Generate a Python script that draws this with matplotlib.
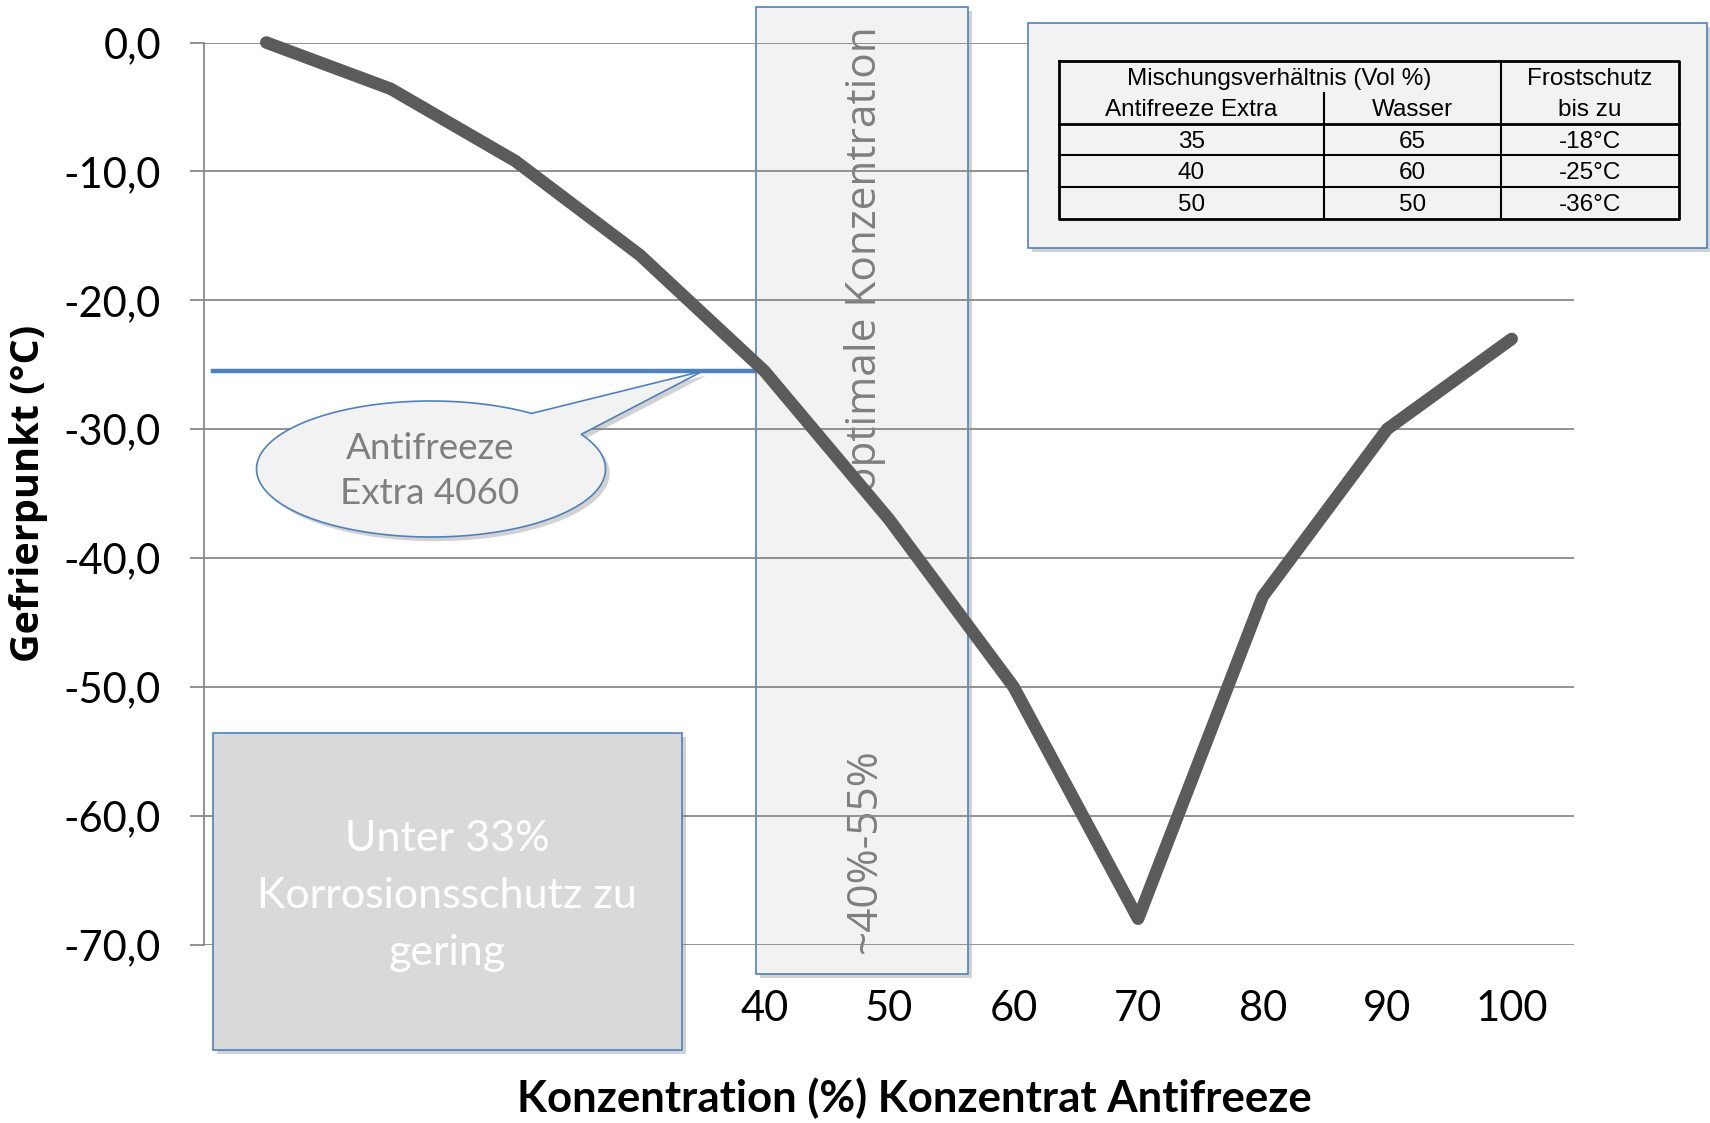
import matplotlib
matplotlib.use('Agg')
import matplotlib.pyplot as plt
import matplotlib.patches as mpatches
import matplotlib.patheffects as pe
from matplotlib.lines import Line2D
import numpy as np

# Daten
konz = [0, 10, 20, 30, 40, 50, 60, 70, 80, 90, 100]
gefrier = [0.0, -3.6, -9.2, -16.5, -25.5, -37.0, -50.0, -68.0, -43.0, -30.0, -23.0]
y_ticks = [0, -10, -20, -30, -40, -50, -60, -70]

tab_antifreeze = ['35', '40', '50']
tab_wasser = ['65', '60', '50']
tab_frost = ['-18°C', '-25°C', '-36°C']

W, H = 1710, 1123


def fx(x):
    return x / W


def fy(y):
    return 1 - y / H


blau = '#4f81bd'
grau_grid = '#898989'
schatten = [pe.SimplePatchShadow(offset=(3, -3), shadow_rgbFace='#7f7f7f', alpha=0.35), pe.Normal()]

fig = plt.figure(figsize=(W / 100, H / 100), dpi=100)
ax = fig.add_axes([fx(204), fy(944.5), 1370 / W, 902 / H])
ax.set_facecolor('none')

xi = np.arange(len(konz))
ax.plot(xi, gefrier, color='#5b5b5b', lw=9, solid_capstyle='round',
        solid_joinstyle='round', clip_on=False, zorder=3)
ax.set_xlim(-0.5, len(konz) - 0.5)
ax.set_ylim(-70, 0)
ax.set_yticks(y_ticks)
ax.set_yticklabels([f'{v:.1f}'.replace('.', ',') for v in y_ticks], fontsize=30, family='Lato')
ax.set_xticks(xi)
ax.set_xticklabels([str(k) for k in konz], fontsize=30, family='Lato')
ax.tick_params(axis='x', length=0, pad=32.5)
ax.tick_params(axis='y', length=10, width=1.3, color=grau_grid, pad=21)
ax.grid(axis='y', color=grau_grid, lw=1.3)
for s in ['top', 'right', 'bottom']:
    ax.spines[s].set_visible(False)
ax.spines['left'].set_color(grau_grid)
ax.spines['left'].set_linewidth(1.3)

# Bereich optimale Konzentration (hinter der Kurve)
opt = mpatches.Rectangle((fx(756), fy(974)), (968 - 756) / W, (974 - 7) / H,
                         transform=fig.transFigure, facecolor='#f2f2f2', edgecolor=blau,
                         lw=1.2, zorder=-1, path_effects=schatten)
fig.add_artist(opt)
fig.text(fx(865), fy(26), 'optimale Konzentration', rotation=90, ha='center', va='top',
         family='Open Sans', fontsize=30.5, color='#7f7f7f', zorder=-1)
fig.text(fx(865), fy(953), '~40%-55%', rotation=90, ha='center', va='bottom',
         family='Open Sans', fontsize=30.5, color='#7f7f7f', zorder=-1)

# blaue Linie zum Callout
fig.add_artist(Line2D([fx(213), fx(756)], [fy(371), fy(371)], transform=fig.transFigure,
                      color=blau, lw=3.2, zorder=-0.5))

# Callout "Antifreeze Extra 4060"
cx, cy, a, b = 431, 469, 174.5, 68
t1, t2 = np.deg2rad(-30.6), np.deg2rad(305.2)
tt = np.linspace(t1, t2, 200)
pts = [(cx + a * np.cos(t), cy + b * np.sin(t)) for t in tt]
pts.append((703, 371))
callout = mpatches.Polygon([(fx(x), fy(y)) for x, y in pts], closed=True,
                           transform=fig.transFigure, facecolor='#f2f2f2', edgecolor=blau,
                           lw=1.2, zorder=5, path_effects=schatten)
fig.add_artist(callout)
fig.text(fx(430), fy(471), 'Antifreeze\nExtra 4060', ha='center', va='center',
         family='Lato', fontsize=26.5, color='#7f7f7f', linespacing=1.45, zorder=6)

# Kasten "Unter 33% ..."
box = mpatches.Rectangle((fx(213), fy(1050)), (682 - 213) / W, (1050 - 733) / H,
                         transform=fig.transFigure, facecolor='#d9d9d9', edgecolor=blau,
                         lw=1.2, zorder=5, path_effects=schatten)
fig.add_artist(box)
fig.text(fx(447), fy(896), 'Unter 33%\nKorrosionsschutz zu\ngering', ha='center', va='center',
         family='Lato', fontsize=31, color='white', linespacing=1.62, zorder=6)

# Tabellenkasten
tbox = mpatches.Rectangle((fx(1028), fy(248.3)), (1707 - 1028) / W, (248.3 - 22.7) / H,
                          transform=fig.transFigure, facecolor='#f2f2f2', edgecolor=blau,
                          lw=1.2, zorder=5, path_effects=schatten)
fig.add_artist(tbox)

x0, x1, x2, x3 = 1058.6, 1323.6, 1500.7, 1679
y0, ym, y1, y2, y3, y4 = 60.7, 92.7, 124, 155.3, 187, 219.3


def tline(xs, ys, lw):
    fig.add_artist(Line2D([fx(v) for v in xs], [fy(v) for v in ys],
                          transform=fig.transFigure, color='black', lw=lw, zorder=6))


tline([x0, x3, x3, x0, x0], [y0, y0, y4, y4, y0], 2.0)
tline([x0, x3], [y1, y1], 2.0)
tline([x0, x3], [y2, y2], 1.5)
tline([x0, x3], [y3, y3], 1.5)
tline([x2, x2], [y0, y4], 1.5)
tline([x1, x1], [ym, y4], 1.5)

tkw = dict(ha='center', va='center', family='Liberation Sans', fontsize=17.5, color='black', zorder=7)
fig.text(fx((x0 + x2) / 2), fy(79), 'Mischungsverhältnis (Vol %)', **tkw)
fig.text(fx((x2 + x3) / 2), fy(79), 'Frostschutz', **tkw)
fig.text(fx((x0 + x1) / 2), fy(110), 'Antifreeze Extra', **tkw)
fig.text(fx((x1 + x2) / 2), fy(110), 'Wasser', **tkw)
fig.text(fx((x2 + x3) / 2), fy(110), 'bis zu', **tkw)
for i, yy in enumerate([(y1 + y2) / 2, (y2 + y3) / 2, (y3 + y4) / 2]):
    fig.text(fx((x0 + x1) / 2), fy(yy + 2), tab_antifreeze[i], **tkw)
    fig.text(fx((x1 + x2) / 2), fy(yy + 2), tab_wasser[i], **tkw)
    fig.text(fx((x2 + x3) / 2), fy(yy + 2), tab_frost[i], **tkw)

# Achsentitel
fig.text(fx(914), fy(1098), 'Konzentration (%) Konzentrat Antifreeze', ha='center', va='center',
         fontsize=31.5, fontweight='bold', family='Lato')
fig.text(fx(28), fy(493), 'Gefrierpunkt (°C)', rotation=90, ha='center', va='center',
         fontsize=28.5, fontweight='bold', family='Open Sans')

fig.savefig('out.png', dpi=100)
